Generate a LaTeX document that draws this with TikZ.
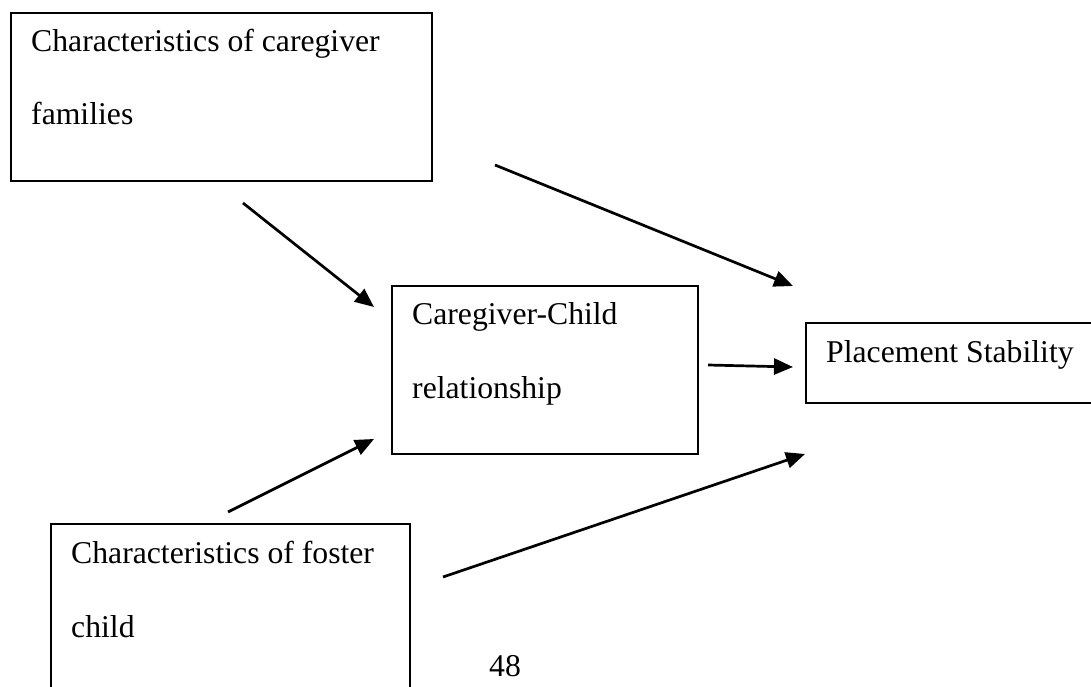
\documentclass[tikz,border=0pt]{standalone}
\usepackage{fontspec}
\setmainfont{Liberation Serif}
\usetikzlibrary{arrows.meta}
\tikzset{
  box/.style={draw, line width=1.8pt, inner sep=0pt, anchor=north west},
  lbl/.style={inner sep=0pt, anchor=base west, font=\fontsize{31.7}{38}\selectfont},
  conn/.style={line width=2.7pt, -{Triangle[length=19pt, width=16pt]}}
}
\begin{document}
\begin{tikzpicture}[x=1pt, y=-1pt]
\useasboundingbox (0,0) rectangle (1091,687);
\clip (0,0) rectangle (1091,687);
% boxes
\node[box, minimum width=421, minimum height=168] (b1) at (10,12) {};
\node[box, minimum width=306, minimum height=168] (b2) at (391,285) {};
\node[box, minimum width=292, minimum height=80] (b3) at (805,322) {};
\node[box, minimum width=359, minimum height=200] (b4) at (50,523) {};
% labels
\node[lbl] (t1a) at (31,52) {Characteristics of caregiver};
\node[lbl] (t1b) at (31,125) {families};
\node[lbl] (t2a) at (412,324) {Caregiver-Child};
\node[lbl] (t2b) at (412,398) {relationship};
\node[lbl] (t3) at (826,362) {Placement Stability};
\node[lbl] (t4a) at (71,563) {Characteristics of foster};
\node[lbl] (t4b) at (71,637) {child};
\node[lbl] (pg) at (489,676) {48};
% connector end points
\coordinate (a1s) at (243,203);
\coordinate (a1e) at (374,307);
\coordinate (a2s) at (495,165);
\coordinate (a2e) at (793,286);
\coordinate (a3s) at (708,365);
\coordinate (a3e) at (793,367);
\coordinate (a4s) at (228,512);
\coordinate (a4e) at (374,439);
\coordinate (a5s) at (443,577);
\coordinate (a5e) at (805,454);
% connectors
\draw[conn] (a1s) -- (a1e);
\draw[conn] (a2s) -- (a2e);
\draw[conn] (a3s) -- (a3e);
\draw[conn] (a4s) -- (a4e);
\draw[conn] (a5s) -- (a5e);
\end{tikzpicture}
\end{document}
